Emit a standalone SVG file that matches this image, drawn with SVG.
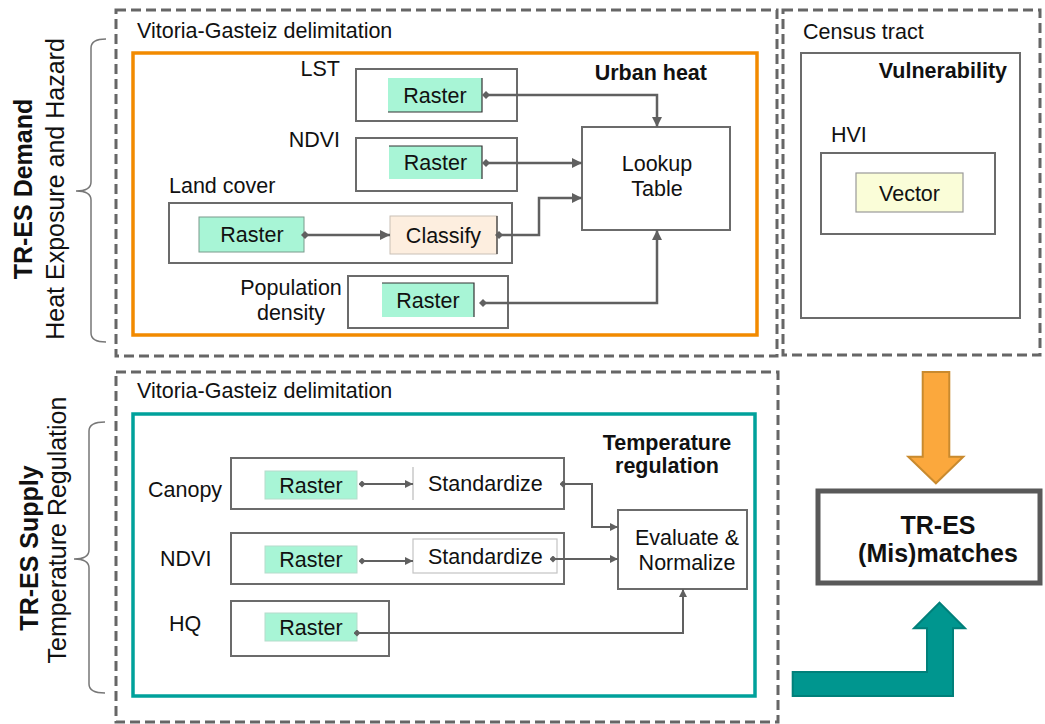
<svg xmlns="http://www.w3.org/2000/svg" width="1045" height="724" viewBox="0 0 1045 724">
<style>
text{font-family:"Liberation Sans",Arial,sans-serif;fill:#111;font-size:21.5px}
.b{font-weight:bold}
.m{text-anchor:middle}
.e{text-anchor:end}
.dash{fill:none;stroke:#666;stroke-width:3;stroke-dasharray:10 5}
.box{fill:#fff;stroke:#6b6b6b;stroke-width:2}
.ras{fill:#a8f5d6}
.edge{fill:none;stroke:#333;stroke-width:1.2}
.rasb{fill:#a8f5d6;stroke:#b5dccb;stroke-width:1}
.con{fill:none;stroke:#606060;stroke-width:2.5;marker-start:url(#dia);marker-end:url(#arr)}
.cons{fill:none;stroke:#606060;stroke-width:2;marker-start:url(#dias);marker-end:url(#arrs)}
.brace{fill:none;stroke:#777;stroke-width:1.5}
</style>
<defs>
<marker id="arr" viewBox="0 0 10 10" refX="10" refY="5" markerWidth="10" markerHeight="10" orient="auto" markerUnits="userSpaceOnUse"><path d="M0,0 L10,5 L0,10 z" fill="#606060"/></marker>
<marker id="dia" viewBox="0 0 8 8" refX="4" refY="4" markerWidth="8" markerHeight="8" orient="auto" markerUnits="userSpaceOnUse"><path d="M4,0 L8,4 L4,8 L0,4 z" fill="#606060"/></marker>
<marker id="arrs" viewBox="0 0 10 10" refX="10" refY="5" markerWidth="8" markerHeight="8" orient="auto" markerUnits="userSpaceOnUse"><path d="M0,0 L10,5 L0,10 z" fill="#606060"/></marker>
<marker id="dias" viewBox="0 0 8 8" refX="4" refY="4" markerWidth="7" markerHeight="7" orient="auto" markerUnits="userSpaceOnUse"><path d="M4,0 L8,4 L4,8 L0,4 z" fill="#606060"/></marker>
</defs>

<g id="side-labels">
<text class="b m" style="font-size:25px" transform="translate(31.7,189) rotate(-90)">TR-ES Demand</text>
<text class="m" style="font-size:25px" transform="translate(63.5,189) rotate(-90)">Heat Exposure and Hazard</text>
<path class="brace" d="M106,39 Q91,39 91,48 V182 Q91,191 76,191 Q91,191 91,200 V333 Q91,342 106,342"/>
<text class="b m" style="font-size:25px" transform="translate(38.3,548) rotate(-90)">TR-ES Supply</text>
<text class="m" style="font-size:25px" transform="translate(65.7,530) rotate(-90)">Temperature Regulation</text>
<path class="brace" d="M105,422 Q89,422 89,431 V550 Q89,559 74,559 Q89,559 89,568 V684 Q89,693 105,693"/>
</g>

<g id="demand-area">
<rect class="dash" x="116" y="10" width="661" height="346"/>
<text x="137" y="38">Vitoria-Gasteiz delimitation</text>
<rect x="133" y="53" width="624" height="282" fill="none" stroke="#f28a00" stroke-width="3.5"/>
<text class="b e" x="707" y="80">Urban heat</text>
</g>

<g id="lst">
<text class="e" x="340" y="76">LST</text>
<rect class="box" x="356" y="69" width="161" height="52"/>
<rect class="ras" x="388" y="78" width="94" height="34"/>
<path class="edge" d="M388,112 H482 V78"/>
<text class="m" x="435" y="103">Raster</text>
</g>

<g id="ndvi-demand">
<text class="e" x="340" y="147">NDVI</text>
<rect class="box" x="356" y="138" width="161" height="53"/>
<rect class="ras" x="389" y="146" width="93" height="33"/>
<path class="edge" d="M389,146 H482 V179"/>
<text class="m" x="435.5" y="170">Raster</text>
</g>

<g id="land-cover">
<text x="169" y="193">Land cover</text>
<rect class="box" x="169" y="203" width="343" height="60"/>
<rect class="ras" x="199" y="217" width="105" height="35" stroke="#7a9a8c" stroke-width="1"/>
<text class="m" x="252" y="242">Raster</text>
<rect x="390" y="216" width="107" height="38" fill="#fdeedf" stroke="#c9c0b6" stroke-width="1"/>
<path class="edge" d="M497,216 V254"/>
<text class="m" x="443.5" y="243">Classify</text>
</g>

<g id="population">
<text class="m" x="291" y="295">Population</text>
<text class="m" x="291" y="320">density</text>
<rect class="box" x="348" y="276" width="160" height="52"/>
<rect class="ras" x="382" y="283" width="92" height="34"/>
<path class="edge" d="M382,283 H474 V317"/>
<text class="m" x="428" y="308">Raster</text>
</g>

<g id="lookup">
<rect class="box" x="582" y="127" width="148" height="103"/>
<text class="m" x="657" y="171">Lookup</text>
<text class="m" x="657" y="196">Table</text>
</g>

<g id="census">
<rect class="dash" x="783" y="10" width="257" height="345"/>
<text x="803" y="39">Census tract</text>
<rect class="box" x="801" y="53" width="219" height="265"/>
<text class="b e" x="1007" y="78">Vulnerability</text>
<text x="831" y="142">HVI</text>
<rect class="box" x="821" y="153" width="174" height="81"/>
<rect x="856" y="173" width="107" height="39" fill="#fafdd8" stroke="#999" stroke-width="1.2"/>
<text class="m" x="909.5" y="201">Vector</text>
</g>

<g id="supply-area">
<rect class="dash" x="116" y="372" width="662" height="350"/>
<text x="137" y="398">Vitoria-Gasteiz delimitation</text>
<rect x="133" y="414" width="622" height="282" fill="none" stroke="#00a19b" stroke-width="3.5"/>
<text class="b m" x="667" y="450">Temperature</text>
<text class="b m" x="667" y="473">regulation</text>
</g>

<g id="canopy">
<text x="148" y="497">Canopy</text>
<rect class="box" x="231" y="458" width="333" height="51"/>
<rect class="rasb" x="265" y="471" width="92" height="28"/>
<text class="m" x="311" y="493">Raster</text>
<path d="M413,467 V500" stroke="#bbb" stroke-width="1.2"/>
<text x="428" y="491">Standardize</text>
</g>

<g id="ndvi-supply">
<text x="160" y="566">NDVI</text>
<rect class="box" x="231" y="533" width="333" height="51"/>
<rect class="rasb" x="265" y="546" width="92" height="27"/>
<text class="m" x="311" y="567">Raster</text>
<rect x="413" y="539" width="144" height="34" fill="#fff" stroke="#c4c4c4" stroke-width="1.2"/>
<text x="428" y="564">Standardize</text>
</g>

<g id="hq">
<text x="169" y="631">HQ</text>
<rect class="box" x="231" y="601" width="158" height="55"/>
<rect class="rasb" x="265" y="613" width="92" height="28"/>
<text class="m" x="311" y="635">Raster</text>
</g>

<g id="evaluate">
<rect class="box" x="618" y="510" width="129" height="79"/>
<text class="m" x="687" y="545">Evaluate &amp;</text>
<text class="m" x="687" y="570">Normalize</text>
</g>

<g id="mismatches">
<rect x="818" y="491" width="222" height="92" fill="#fff" stroke="#595959" stroke-width="5"/>
<text class="b m" style="font-size:25px" x="938" y="534">TR-ES</text>
<text class="b m" style="font-size:25px" x="938" y="562">(Mis)matches</text>
</g>

<g id="connectors">
<path class="con" d="M486,95 H657 V127"/>
<path class="con" d="M486,163 H582"/>
<path class="con" d="M305,235 H390"/>
<path class="con" d="M499,235 H539 V198 H582"/>
<path class="con" d="M483,303 H657 V230"/>
<path class="cons" d="M362,484 H413"/>
<path class="cons" d="M563,484 H592 V527 H618"/>
<path class="cons" d="M362,561 H413"/>
<path class="cons" d="M553,559 H618"/>
<path class="cons" d="M357,633 H683 V589"/>
<path d="M922.7,372 H949.3 V456.7 H963.3 L935.9,483.3 L908.3,456.7 H922.7 Z" fill="#fba83d" stroke="#c98a2e" stroke-width="2"/>
<path d="M792.7,672 H927 V628.3 H914 L939.5,602.7 L965,628.3 H953 V696 H792.7 Z" fill="#00968f" stroke="#00807a" stroke-width="2"/>
</g>
</svg>
